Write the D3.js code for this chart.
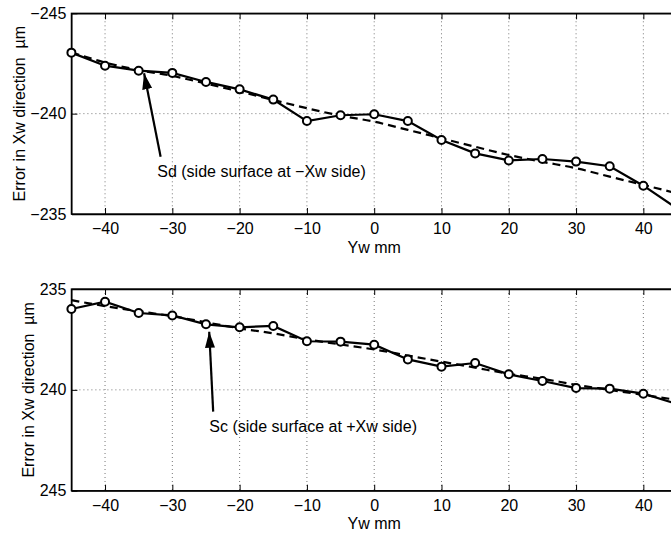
<!DOCTYPE html>
<html>
<head>
<meta charset="utf-8">
<script src="https://cdnjs.cloudflare.com/ajax/libs/d3/7.8.5/d3.min.js"></script>
<style>
  body { margin: 0; background: #fff; }
  svg { display: block; font-family: "Liberation Sans", Arial, sans-serif; }
  .tick text { font-size: 16px; fill: #000; }
  .label { font-size: 16px; white-space: pre; }
  .grid line { stroke: #777; stroke-width: 1; stroke-dasharray: 1,3; }
</style>
</head>
<body>
<svg id="chart" width="671" height="535"></svg>
<script>
// Yw positions (mm)
const yw = [-45, -40, -35, -30, -25, -20, -15, -10, -5, 0, 5, 10, 15, 20, 25, 30, 35, 40, 45];

// Sd: side surface at -Xw side (um)
const sdMeasured = [-243.04, -242.39, -242.14, -242.03, -241.58, -241.21, -240.70, -239.63, -239.92, -239.97,
                    -239.63, -238.69, -238.02, -237.67, -237.74, -237.61, -237.38, -236.41, -235.28];
const sdFit = [-243.05, -242.55, -242.17, -241.88, -241.50, -241.10, -240.68, -240.27, -239.90, -239.60,
               -239.19, -238.77, -238.35, -237.94, -237.60, -237.28, -236.86, -236.45, -236.03];

// Sc: side surface at +Xw side (um)
const scMeasured = [235.99, 235.63, 236.19, 236.31, 236.75, 236.90, 236.83, 237.59, 237.61, 237.76,
                    238.49, 238.85, 238.67, 239.23, 239.56, 239.91, 239.94, 240.19, 240.70];
const scFit = [235.55, 235.85, 236.10, 236.35, 236.65, 236.95, 237.20, 237.50, 237.75, 238.00,
               238.30, 238.60, 238.90, 239.20, 239.45, 239.75, 240.00, 240.25, 240.50];

const xTicks = [-40, -30, -20, -10, 0, 10, 20, 30, 40];
const sdTicks = [-245, -240, -235];
const scTicks = [235, 240, 245];

const xLabel = 'Yw mm';
const yLabel = 'Error in Xw direction  \u00b5m';

const svg = d3.select('#chart');

svg.append('defs').append('marker')
  .attr('id', 'head')
  .attr('markerUnits', 'userSpaceOnUse')
  .attr('markerWidth', 17).attr('markerHeight', 10)
  .attr('refX', 16).attr('refY', 5)
  .attr('orient', 'auto')
  .append('path')
  .attr('d', 'M0,0 L16,5 L0,10 Z')
  .attr('fill', '#000');

const x = d3.scaleLinear().domain([-45, 45]).range([71.4, 677]);

const fmt = d => d < 0 ? '\u2212' + Math.abs(d) : d;

function drawPanel(cfg) {
  const y = d3.scaleLinear().domain(cfg.domain).range(cfg.range);
  const g = svg.append('g');
  const [top, bottom] = cfg.range;

  // dotted grid
  const grid = g.append('g').attr('class', 'grid');
  grid.selectAll('.gx').data(xTicks).enter().append('line')
    .attr('x1', d => x(d)).attr('x2', d => x(d))
    .attr('y1', top).attr('y2', bottom);
  grid.selectAll('.gy').data(cfg.ticks.slice(1, -1)).enter().append('line')
    .attr('x1', x(-45)).attr('x2', x(45))
    .attr('y1', d => y(d)).attr('y2', d => y(d));

  // axes, ticks inward
  g.append('g')
    .attr('transform', `translate(0,${bottom})`)
    .call(d3.axisBottom(x).tickValues(xTicks).tickSizeInner(-6).tickSizeOuter(0).tickPadding(8.5).tickFormat(fmt));
  g.append('g')
    .attr('transform', `translate(0,${top})`)
    .call(d3.axisTop(x).tickValues(xTicks).tickSizeInner(-6).tickSizeOuter(0).tickFormat(''));
  g.append('g')
    .attr('transform', `translate(${x(-45)},0)`)
    .call(d3.axisLeft(y).tickValues(cfg.ticks).tickSizeInner(-6).tickSizeOuter(0).tickPadding(5).tickFormat(fmt));
  g.append('g')
    .attr('transform', `translate(${x(45)},0)`)
    .call(d3.axisRight(y).tickValues(cfg.ticks).tickSizeInner(-6).tickSizeOuter(0).tickFormat(''));
  g.selectAll('.domain').attr('stroke', '#000').attr('stroke-width', 1.3);
  g.selectAll('.tick line').attr('stroke', '#000');

  g.append('rect')
    .attr('x', x(-45)).attr('y', top)
    .attr('width', x(45) - x(-45)).attr('height', bottom - top)
    .attr('fill', 'none').attr('stroke', '#000').attr('stroke-width', 1.3);

  const line = d3.line().x((d, i) => x(yw[i])).y(d => y(d));

  g.append('path')
    .datum(cfg.fit)
    .attr('d', line.curve(d3.curveMonotoneX))
    .attr('fill', 'none').attr('stroke', '#000')
    .attr('stroke-width', 2.2).attr('stroke-dasharray', '8,5');

  g.append('path')
    .datum(cfg.measured)
    .attr('d', line.curve(d3.curveLinear))
    .attr('fill', 'none').attr('stroke', '#000').attr('stroke-width', 2.2);

  g.selectAll('.pt').data(cfg.measured).enter().append('circle')
    .attr('cx', (d, i) => x(yw[i])).attr('cy', d => y(d))
    .attr('r', 4).attr('fill', '#fff').attr('stroke', '#000').attr('stroke-width', 2);

  // annotation arrow + text
  g.append('line')
    .attr('x1', x(cfg.arrow.tail[0])).attr('y1', y(cfg.arrow.tail[1]))
    .attr('x2', x(cfg.arrow.tip[0])).attr('y2', y(cfg.arrow.tip[1]))
    .attr('stroke', '#000').attr('stroke-width', 2.2)
    .attr('marker-end', 'url(#head)');
  g.append('text')
    .attr('class', 'label')
    .attr('x', x(cfg.arrow.text[0])).attr('y', y(cfg.arrow.text[1]))
    .text(cfg.note);

  // axis labels
  g.append('text')
    .attr('class', 'label')
    .attr('x', x(0)).attr('y', bottom + 38.5)
    .attr('text-anchor', 'middle')
    .text(xLabel);
  g.append('text')
    .attr('class', 'label')
    .attr('transform', `translate(${cfg.ylabelX},${(top + bottom) / 2}) rotate(-90)`)
    .attr('text-anchor', 'middle')
    .text(yLabel);
}

drawPanel({
  domain: [-245, -235], range: [13.3, 214], ticks: sdTicks,
  measured: sdMeasured, fit: sdFit,
  arrow: { tail: [-31.74, -237.85], tip: [-34.2, -242.01], text: [-32.24, -236.83] },
  note: 'Sd (side surface at \u2212Xw side)',
  ylabelX: 25
});

drawPanel({
  domain: [235, 245], range: [289, 490.7], ticks: scTicks,
  measured: scMeasured, fit: scFit,
  arrow: { tail: [-23.93, 241.08], tip: [-24.52, 237.12], text: [-24.5, 242.09] },
  note: 'Sc (side surface at +Xw side)',
  ylabelX: 34
});
</script>
</body>
</html>
